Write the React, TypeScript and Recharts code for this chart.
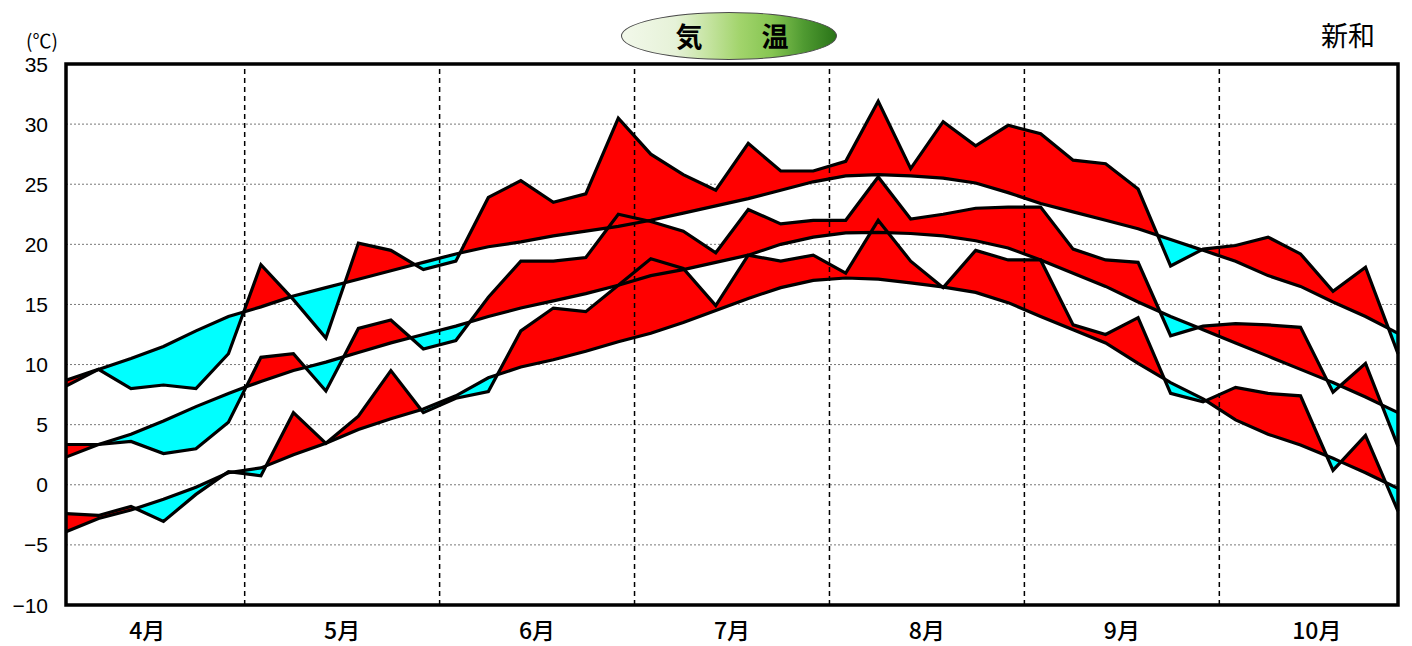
import React from 'react';
import {
  ComposedChart,
  Area,
  Line,
  XAxis,
  YAxis,
  CartesianGrid,
  ReferenceLine,
  ReferenceArea,
} from 'recharts';

// ---- data (pentad values, April → October) ----
const months = ['4月', '5月', '6月', '7月', '8月', '9月', '10月'];
const monthTicks = [2.5, 8.5, 14.5, 20.5, 26.5, 32.5, 38.5];
const monthBoundaries = [5.5, 11.5, 17.5, 23.5, 29.5, 35.5];
const yTicks = [-10, -5, 0, 5, 10, 15, 20, 25, 30, 35];

const maxActual = [8.7, 9.6, 8.0, 8.3, 8.0, 10.9, 18.3, 15.4, 12.2, 20.1, 19.5, 17.9, 18.6, 23.9, 25.3, 23.5, 24.2, 30.5, 27.5, 25.8, 24.5, 28.4, 26.1, 26.1, 26.9, 31.9, 26.3, 30.2, 28.2, 29.9, 29.2, 27.0, 26.7, 24.6, 18.2, 19.6, 19.9, 20.6, 19.2, 16.1, 18.1, 10.9];
const maxNormal = [8.2, 9.6, 10.5, 11.5, 12.8, 14.0, 14.8, 15.7, 16.4, 17.1, 17.8, 18.5, 19.2, 19.8, 20.2, 20.7, 21.1, 21.5, 22.0, 22.6, 23.2, 23.8, 24.5, 25.2, 25.7, 25.8, 25.7, 25.5, 25.1, 24.3, 23.4, 22.7, 22.0, 21.3, 20.4, 19.5, 18.6, 17.4, 16.5, 15.2, 14.0, 12.6];
const meanActual = [3.35, 3.35, 3.6, 2.6, 3.0, 5.2, 10.6, 10.9, 7.8, 13.0, 13.7, 11.3, 12.0, 15.6, 18.6, 18.6, 18.9, 22.5, 21.9, 21.1, 19.3, 22.9, 21.7, 22.0, 22.0, 25.6, 22.1, 22.5, 23.0, 23.1, 23.1, 19.6, 18.7, 18.5, 12.4, 13.2, 13.4, 13.3, 13.1, 7.7, 10.1, 3.2];
const meanNormal = [2.3, 3.35, 4.2, 5.3, 6.5, 7.6, 8.6, 9.5, 10.2, 11.0, 11.8, 12.5, 13.2, 14.0, 14.7, 15.3, 15.9, 16.6, 17.4, 17.9, 18.5, 19.1, 20.0, 20.6, 20.95, 21.0, 20.9, 20.7, 20.3, 19.7, 18.7, 17.6, 16.5, 15.2, 14.0, 12.9, 11.8, 10.7, 9.6, 8.5, 7.3, 6.0];
const minActual = [-2.4, -2.55, -1.8, -3.05, -0.8, 1.1, 0.75, 6.0, 3.45, 5.7, 9.5, 6.0, 7.2, 7.75, 12.8, 14.7, 14.4, 16.6, 18.8, 18.0, 14.9, 19.1, 18.6, 19.1, 17.6, 22.0, 18.6, 16.4, 19.5, 18.7, 18.7, 13.3, 12.5, 13.9, 7.6, 6.9, 8.1, 7.6, 7.4, 1.2, 4.1, -2.2];
const minNormal = [-3.9, -2.8, -2.1, -1.2, -0.2, 1.0, 1.4, 2.5, 3.45, 4.6, 5.5, 6.3, 7.4, 8.9, 9.8, 10.4, 11.1, 11.9, 12.6, 13.5, 14.5, 15.5, 16.4, 17.0, 17.2, 17.1, 16.8, 16.45, 16.0, 15.15, 14.0, 12.9, 11.8, 10.1, 8.5, 7.15, 5.4, 4.2, 3.3, 2.2, 1.0, -0.3];

const pairs = [
  { key: 'max', actual: maxActual, normal: maxNormal },
  { key: 'mean', actual: meanActual, normal: meanNormal },
  { key: 'min', actual: minActual, normal: minNormal },
];

type Row = { x: number; [k: string]: any };

// table for the library: pentad rows plus the points where actual crosses normal
function buildRows(): Row[] {
  const map = new Map<number, Row>();
  const get = (x: number) => {
    const k = Math.round(x * 1e6) / 1e6;
    let r = map.get(k);
    if (!r) {
      r = { x: k };
      map.set(k, r);
    }
    return r;
  };
  pairs.forEach(({ key, actual, normal }) => {
    actual.forEach((a, i) => {
      const n = normal[i];
      const r = get(i);
      r[key + 'A'] = a;
      r[key + 'N'] = n;
      r[key + 'Hi'] = [n, Math.max(a, n)];
      r[key + 'Lo'] = [Math.min(a, n), n];
      if (i < actual.length - 1) {
        const d0 = a - n;
        const d1 = actual[i + 1] - normal[i + 1];
        if (d0 * d1 < 0) {
          const t = d0 / (d0 - d1);
          const v = n + t * (normal[i + 1] - n);
          const c = get(i + t);
          c[key + 'A'] = v;
          c[key + 'N'] = v;
          c[key + 'Hi'] = [v, v];
          c[key + 'Lo'] = [v, v];
        }
      }
    });
  });
  return [...map.values()].sort((p, q) => p.x - q.x);
}

const rows = buildRows();

const NUM_FONT = '"Liberation Sans", Arial, "Noto Sans CJK JP", sans-serif';
const JP_FONT = '"Noto Sans CJK JP", "Liberation Sans", sans-serif';

const YTick = (props: any) => {
  const { x, y, payload } = props;
  return (
    <text x={x} y={y} textAnchor="end" dominantBaseline="central" fontSize={21} fontFamily={NUM_FONT} fill="#000">
      {String(payload.value).replace('-', '−')}
    </text>
  );
};

const XTick = (props: any) => {
  const { x, y, payload } = props;
  return (
    <text x={x} y={y} textAnchor="middle" dominantBaseline="central" fontSize={23} fontWeight={500} fontFamily={JP_FONT} fill="#000">
      {months[Math.round((payload.value - 2.5) / 6)]}
    </text>
  );
};

export default function App() {
  return (
    <div style={{ position: 'absolute', left: 0, top: 0, width: 1412, height: 646, background: '#fff', fontFamily: JP_FONT }}>
      <ComposedChart width={1412} height={646} data={rows} margin={{ top: 64, right: 14, bottom: 0, left: 0 }}>
        <CartesianGrid vertical={false} stroke="#555" strokeDasharray="2 2" strokeWidth={0.8} />
        <XAxis
          type="number"
          dataKey="x"
          domain={[0, 41]}
          ticks={monthTicks}
          interval={0}
          axisLine={false}
          tickLine={false}
          height={41}
          tickMargin={18}
          tick={<XTick />}
        />
        <YAxis
          type="number"
          domain={[-10, 35]}
          ticks={yTicks}
          interval={0}
          width={66}
          axisLine={false}
          tickLine={false}
          tickMargin={12}
          tick={<YTick />}
        />
        {pairs.map((p) => (
          <Area
            key={p.key + 'Hi'}
            type="linear"
            dataKey={(r: Row) => r[p.key + 'Hi'] ?? [null, null]}
            stroke="none"
            fill="#ff0000"
            fillOpacity={1}
            connectNulls
            dot={false}
            activeDot={false}
            isAnimationActive={false}
          />
        ))}
        {pairs.map((p) => (
          <Area
            key={p.key + 'Lo'}
            type="linear"
            dataKey={(r: Row) => r[p.key + 'Lo'] ?? [null, null]}
            stroke="none"
            fill="#00ffff"
            fillOpacity={1}
            connectNulls
            dot={false}
            activeDot={false}
            isAnimationActive={false}
          />
        ))}
        {pairs.map((p) => (
          <Line
            key={p.key + 'N'}
            type="linear"
            dataKey={p.key + 'N'}
            stroke="#000"
            strokeWidth={3.2}
            connectNulls
            dot={false}
            activeDot={false}
            isAnimationActive={false}
          />
        ))}
        {pairs.map((p) => (
          <Line
            key={p.key + 'A'}
            type="linear"
            dataKey={p.key + 'A'}
            stroke="#000"
            strokeWidth={3.2}
            strokeLinejoin="miter"
            connectNulls
            dot={false}
            activeDot={false}
            isAnimationActive={false}
          />
        ))}
        {monthBoundaries.map((b) => (
          <ReferenceLine key={b} x={b} stroke="#000" strokeWidth={1.5} strokeDasharray="5 4" />
        ))}
        <ReferenceArea x1={0} x2={41} y1={-10} y2={35} fill="none" stroke="#000" strokeWidth={3.5} />
      </ComposedChart>

      <div style={{ position: 'absolute', left: 26, top: 29, fontSize: 19, color: '#000', fontFamily: JP_FONT, lineHeight: '22px' }}>
        (℃)
      </div>
      <div
        style={{
          position: 'absolute',
          left: 621,
          top: 12,
          width: 216,
          height: 48,
          boxSizing: 'border-box',
          borderRadius: '50%',
          border: '1px solid #4a4a4a',
          background: 'linear-gradient(90deg, #f2f8ea 0%, #e6f2d8 25%, #c6e4a2 40%, #a2d46c 55%, #86c552 70%, #4f9a31 85%, #2a7418 100%)',
        }}
      />
      <div style={{ position: 'absolute', left: 669, top: 19, width: 40, textAlign: 'center', fontSize: 27, fontWeight: 'bold', lineHeight: '34px', color: '#000' }}>
        気
      </div>
      <div style={{ position: 'absolute', left: 755, top: 19, width: 40, textAlign: 'center', fontSize: 27, fontWeight: 'bold', lineHeight: '34px', color: '#000' }}>
        温
      </div>
      <div style={{ position: 'absolute', left: 1306, top: 18, width: 84, textAlign: 'center', fontSize: 27, lineHeight: '34px', color: '#000' }}>
        新和
      </div>
    </div>
  );
}
